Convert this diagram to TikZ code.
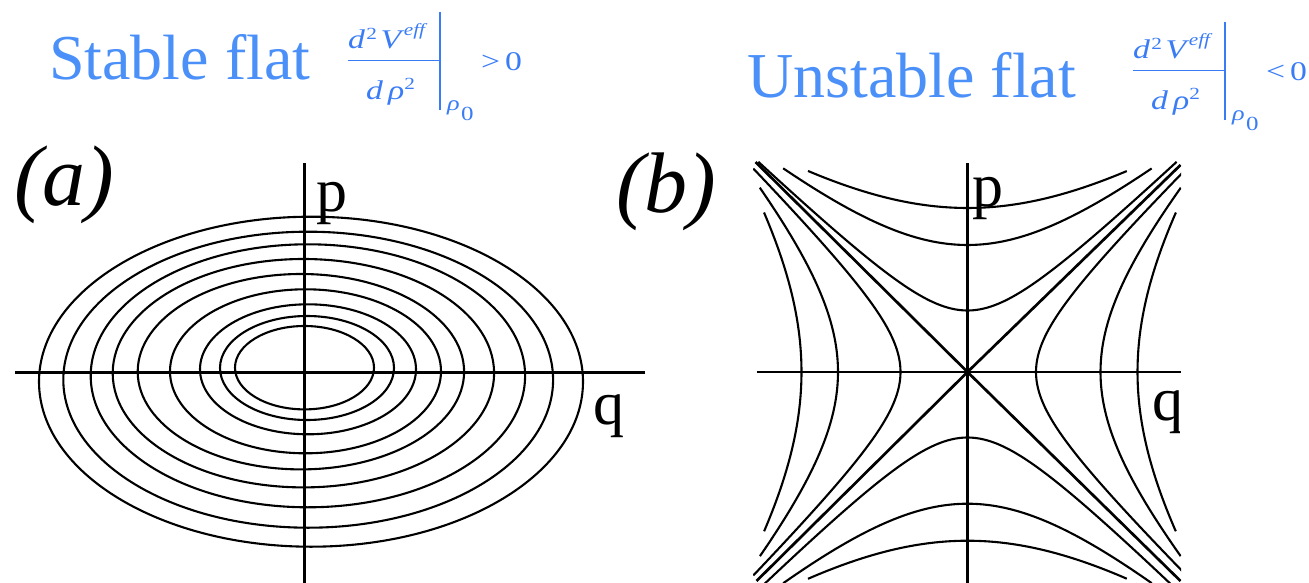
\documentclass[tikz,border=0pt]{standalone}
\usepackage{fontspec}
\setmainfont{Liberation Serif}
\usepackage{graphicx}
\definecolor{ttl}{RGB}{74,144,248}
\definecolor{fmlc}{RGB}{58,124,245}
\tikzset{
  ttlnode/.style={text=ttl, inner sep=0pt, anchor=base west, font=\fontsize{64}{70}\selectfont},
  fmlnode/.style={text=fmlc, inner sep=0pt, anchor=base west},
  fmlline/.style={draw=fmlc},
  axisline/.style={line width=2.4pt},
  orbit/.style={line width=2.1pt},
  sepline/.style={line width=2.7pt},
  lbl/.style={inner sep=0pt, anchor=base west, font=\fontsize{62}{70}\selectfont},
  panel/.style={inner sep=0pt, anchor=base west, font=\fontsize{86}{90}\selectfont\itshape},
}
\newcommand\sx[1]{\scalebox{1.25}[1]{#1}}
\newcommand\ffs[1]{\fontsize{#1}{#1}\selectfont}
\newcommand\drvformula[1]{%
  \node[fmlnode] (num) at (348,49) {\sx{\ffs{27}\itshape d\kern1pt\raisebox{9.5pt}{\ffs{17}\upshape 2}\kern3pt V\kern2pt\raisebox{13pt}{\ffs{17}eff}}};
  \draw[fmlline, line width=1.6pt] (348,60.7) -- (439,60.7);
  \node[fmlnode] (den) at (366,100) {\sx{\ffs{27}\itshape d\kern4pt ρ\raisebox{10pt}{\ffs{17}\upshape 2}}};
  \draw[fmlline, line width=2pt] (439.6,11.7) -- (439.6,110);
  \node[fmlnode] (rho) at (447,111) {\sx{\ffs{21}\itshape ρ}};
  \node[fmlnode] (sub) at (461,121) {\sx{\ffs{20}0}};
  \node[fmlnode] (rel) at (481,70.5) {\sx{\ffs{27}#1\kern4pt 0}};
}
\begin{document}
\begin{tikzpicture}[x=1pt,y=-1pt]
\useasboundingbox (0,0) rectangle (1309,583);
% titles
\node[ttlnode] (t1) at (49,80) {Stable flat};
\node[ttlnode] (t2) at (747,98) {Unstable flat};
\begin{scope}[name prefix=L-]
  \drvformula{>}
\end{scope}
\begin{scope}[shift={(785,10)}, name prefix=R-]
  \drvformula{<}
\end{scope}
% panel (a)
\node[panel] (la) at (14,205) {(a)};
\draw[axisline] (15,372.3) -- (645,372.3);
\draw[axisline] (304.5,163) -- (304.5,583);
\foreach \cx/\cy/\rx/\ry in {311/381.7/272/165, 308.2/379.7/244.9/148, 307.9/375.8/217.2/131.5, 303.4/373.2/190.7/114.2, 300.9/371.7/163.2/97.7, 305.5/371.3/135.5/82, 308/369.3/108/65, 307/368/87/52, 304.5/367.7/69.5/41.7}
  \draw[orbit] (\cx,\cy) ellipse [x radius=\rx, y radius=\ry];
\node[lbl] (p1) at (316,211) {p};
\node[lbl] (q1) at (593,424) {q};
% panel (b)
\node[panel] (lb) at (616,212) {(b)};
\begin{scope}
  \clip (753,159) rectangle (1181,583);
  \begin{scope}[shift={(967.5,372)}]
    \coordinate (O) at (0,0);
    \draw[sepline] (-212,-210) -- (O) -- (213,209);
    \draw[sepline] (-211,209) -- (O) -- (213,-207);
    % inner, middle, outer branches: a/b/t-range
    \foreach \a/\b/\r in {67/67/1.83, 129.5/147/1.05, 166/225/0.66}
      \draw[orbit] plot[domain=-\r:\r, samples=70, smooth, variable=\t] ({-\a*cosh(\t)},{\b*sinh(\t)});
    \foreach \a/\b/\r in {68.5/67/1.82, 133/147/1.05, 170/225/0.66}
      \draw[orbit] plot[domain=-\r:\r, samples=70, smooth, variable=\t] ({\a*cosh(\t)},{\b*sinh(\t)});
    \foreach \a/\b/\r in {61.5/64/1.9, 127/147/1.05, 164/225/0.66}
      \draw[orbit] plot[domain=-\r:\r, samples=70, smooth, variable=\t] ({\b*sinh(\t)},{-\a*cosh(\t)});
    \foreach \a/\b/\r in {65.5/66/1.85, 131.7/147/1.05, 168.7/225/0.66}
      \draw[orbit] plot[domain=-\r:\r, samples=70, smooth, variable=\t] ({\b*sinh(\t)},{\a*cosh(\t)});
  \end{scope}
\end{scope}
\begin{scope}
  \clip (1100,350) rectangle (1179,460);
  \node[lbl] (q2) at (1152,420) {q};
\end{scope}
\draw[axisline] (756.5,372) -- (1180.5,372);
\draw[axisline] (967.5,163) -- (967.5,583);
\node[lbl] (p2) at (972,206) {p};
\end{tikzpicture}
\end{document}
